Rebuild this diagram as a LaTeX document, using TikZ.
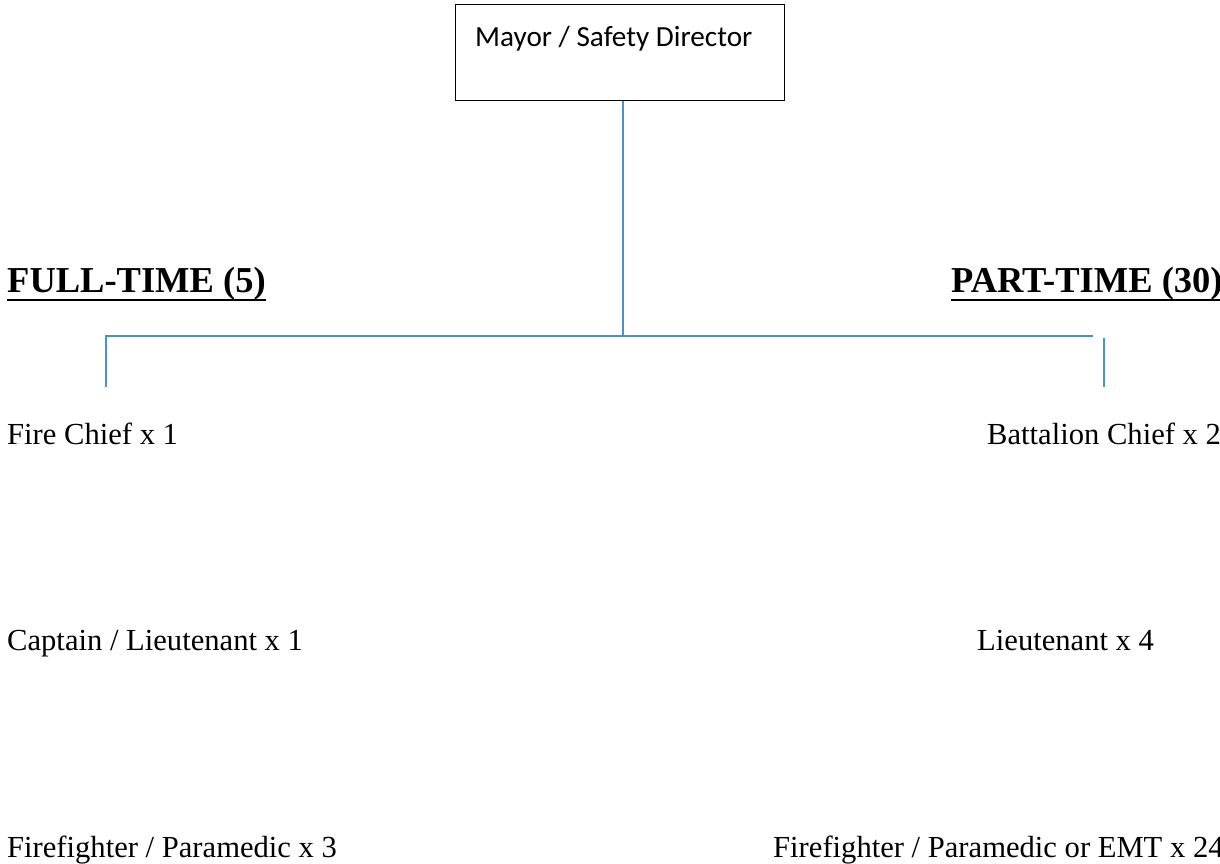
\documentclass[tikz,border=0pt]{standalone}
\usepackage{fontspec}
\setmainfont{Liberation Serif}
\newfontfamily\boxfont{Carlito}
\definecolor{linkblue}{RGB}{74,146,204}
\begin{document}
\begin{tikzpicture}[x=1pt,y=-1pt,
  rolebox/.style={draw=black, line width=1.4pt, minimum width=329pt, minimum height=96pt, inner sep=0pt},
  heading/.style={anchor=base west, inner sep=0pt, font=\fontsize{36.5}{40}\selectfont\bfseries},
  role/.style={anchor=base west, inner sep=0pt, font=\fontsize{30.6}{34}\selectfont},
  link/.style={draw=linkblue, line width=1.6pt},
  rule/.style={draw=black, line width=2pt}]
  \useasboundingbox (0,0) rectangle (1220,863);
  \fill[white] (0,0) rectangle (1220,863);

  % top position box
  \node[rolebox, anchor=north west] (mayor) at (455,4) {};
  \node[anchor=base west, inner sep=0pt, font=\boxfont\fontsize{29.2}{32}\selectfont] (mayortext) at (475,46) {Mayor / Safety Director};

  % group headings
  \node[heading] (full) at (7,292) {FULL-TIME (5)};
  \node[heading] (part) at (951,292) {PART-TIME (30)};
  \draw[rule] ([yshift=-8pt]full.base west) -- ([yshift=-8pt]full.base east);
  \draw[rule] ([yshift=-8pt]part.base west) -- ([yshift=-8pt]part.base east);

  % branch lines
  \coordinate (hub) at (623,336);
  \coordinate (lefttop) at (106,336);
  \coordinate (leftend) at (106,387);
  \coordinate (rightbar) at (1093,336);
  \coordinate (righttop) at (1104,338);
  \coordinate (rightend) at (1104,387);
  \draw[link] (mayor.south -| hub) -- (hub);
  \draw[link] (leftend) -- (lefttop) -- (rightbar);
  \draw[link] (righttop) -- (rightend);

  % full-time roles
  \node[role] (fchief) at (7,444) {Fire Chief x 1};
  \node[role] (fcapt) at (7,650) {Captain / Lieutenant x 1};
  \node[role] (ffire) at (7,857) {Firefighter / Paramedic x 3};

  % part-time roles
  \node[role] (pchief) at (987,444) {Battalion Chief x 2};
  \node[role] (plieut) at (977,650) {Lieutenant x 4};
  \node[role] (pfire) at (773,857) {Firefighter / Paramedic or EMT x 24};
\end{tikzpicture}
\end{document}
